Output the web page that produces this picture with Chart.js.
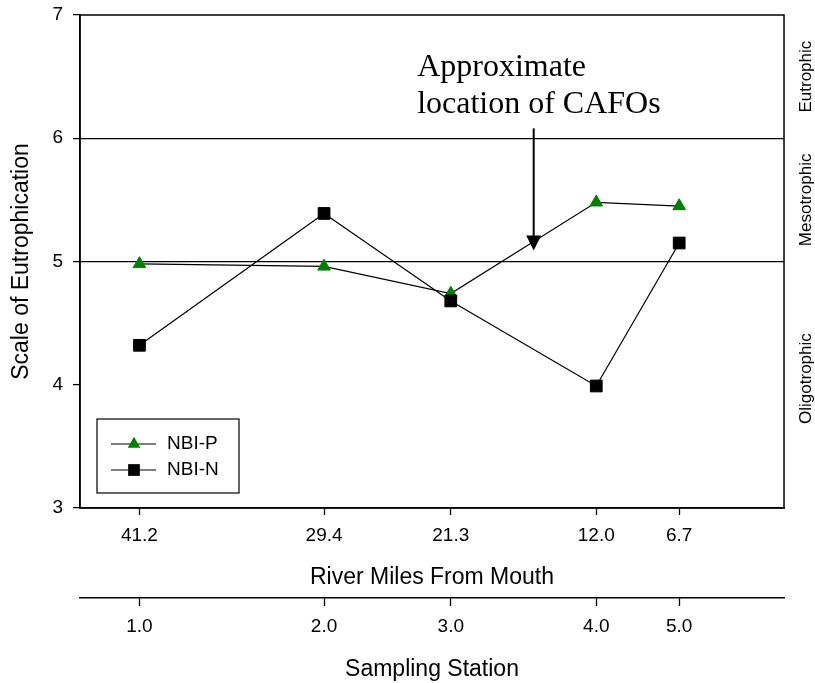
<!DOCTYPE html>
<html>
<head>
<meta charset="utf-8">
<title>Nutrient biotic index along the river</title>
<script src="https://cdn.jsdelivr.net/npm/chart.js@4.4.1/dist/chart.umd.min.js"></script>
<style>
  html, body { margin: 0; padding: 0; background: #fff; }
  #wrap { width: 815px; height: 683px; }
</style>
</head>
<body>
<div id="wrap"><canvas id="myChart" width="815" height="683"></canvas></div>
<script>
// station positions (river miles from the mouth) and station numbers
const riverMiles = [41.2, 29.4, 21.3, 12.0, 6.7];
const stationLabels = ['1.0', '2.0', '3.0', '4.0', '5.0'];

// nutrient biotic index at each station
const nbiP = [4.98, 4.96, 4.74, 5.48, 5.45];
const nbiN = [4.32, 5.39, 4.68, 3.99, 5.15];

// trophic zones on the right edge
const trophicNames = ['Eutrophic', 'Mesotrophic', 'Oligotrophic'];
const trophicCenters = [6.5, 5.5, 4.05];
const trophicBounds = [5, 6];

// CAFO note: river mile of the arrow, arrow top / tip, text anchor
const cafoMile = 16.0;
const cafoArrow = [6.08, 5.09];
const cafoText = ['Approximate', 'location of CAFOs'];
const cafoTextAt = [23.45, 6.505];

const sans = 'Arial, "Liberation Sans", sans-serif';
const serif = '"Times New Roman", "Liberation Serif", serif';
Chart.defaults.font.family = sans;
Chart.defaults.color = '#000';

const toPoints = vals => riverMiles.map((m, i) => ({ x: m, y: vals[i] }));

// box round the plot area
const framePlugin = {
  id: 'frame',
  beforeDatasetsDraw(chart) {
    const { ctx, chartArea: a } = chart;
    ctx.save();
    ctx.strokeStyle = '#000';
    ctx.lineWidth = 1.5;
    ctx.strokeRect(a.left, a.top, a.right - a.left, a.bottom - a.top);
    ctx.restore();
  }
};

// zone names written sideways past the right edge
const zonePlugin = {
  id: 'zones',
  afterDraw(chart) {
    const { ctx, chartArea: a, scales: { y } } = chart;
    ctx.save();
    ctx.font = '17px ' + sans;
    ctx.fillStyle = '#000';
    ctx.textAlign = 'center';
    ctx.textBaseline = 'middle';
    trophicNames.forEach((name, i) => {
      ctx.save();
      ctx.translate(a.right + 22, y.getPixelForValue(trophicCenters[i]));
      ctx.rotate(-Math.PI / 2);
      ctx.fillText(name, 0, 0);
      ctx.restore();
    });
    ctx.restore();
  }
};

// arrow and note for the CAFOs
const cafoPlugin = {
  id: 'cafo',
  afterDatasetsDraw(chart) {
    const { ctx, scales: { x, y } } = chart;
    const px = x.getPixelForValue(cafoMile);
    const top = y.getPixelForValue(cafoArrow[0]);
    const tip = y.getPixelForValue(cafoArrow[1]);
    ctx.save();
    ctx.strokeStyle = '#000';
    ctx.fillStyle = '#000';
    ctx.lineWidth = 2;
    ctx.beginPath();
    ctx.moveTo(px, top);
    ctx.lineTo(px, tip - 13);
    ctx.stroke();
    ctx.beginPath();
    ctx.moveTo(px - 7.5, tip - 15);
    ctx.lineTo(px + 7.5, tip - 15);
    ctx.lineTo(px, tip);
    ctx.closePath();
    ctx.fill();

    ctx.font = '32px ' + serif;
    ctx.textAlign = 'left';
    ctx.textBaseline = 'alphabetic';
    const tx = x.getPixelForValue(cafoTextAt[0]);
    const ty = y.getPixelForValue(cafoTextAt[1]);
    cafoText.forEach((line, i) => ctx.fillText(line, tx, ty + i * 37));
    ctx.restore();
  }
};

// boxed legend in the lower left corner of the plot
const legendPlugin = {
  id: 'boxLegend',
  afterDraw(chart) {
    const { ctx, chartArea: a } = chart;
    const left = a.left + 17, top = a.bottom - 89;
    ctx.save();
    ctx.strokeStyle = '#000';
    ctx.lineWidth = 1.2;
    ctx.strokeRect(left, top, 142, 74);
    ctx.font = '19px ' + sans;
    ctx.textBaseline = 'middle';
    ctx.textAlign = 'left';
    chart.data.datasets.forEach((ds, i) => {
      const ry = top + 25 + i * 26;
      ctx.strokeStyle = ds.borderColor;
      ctx.lineWidth = 1.2;
      ctx.beginPath();
      ctx.moveTo(left + 14, ry);
      ctx.lineTo(left + 59, ry);
      ctx.stroke();
      const mx = left + 37;
      ctx.fillStyle = ds.pointBackgroundColor;
      ctx.beginPath();
      if (ds.pointStyle === 'triangle') {
        const r = ds.pointRadius;
        ctx.moveTo(mx, ry - r);
        ctx.lineTo(mx + r * 0.866, ry + r / 2);
        ctx.lineTo(mx - r * 0.866, ry + r / 2);
        ctx.closePath();
      } else {
        const h = ds.pointRadius * Math.SQRT1_2;
        ctx.rect(mx - h, ry - h, 2 * h, 2 * h);
      }
      ctx.fill();
      ctx.fillStyle = '#000';
      ctx.fillText(ds.label, left + 70, ry);
    });
    ctx.restore();
  }
};

const ctx = document.getElementById('myChart').getContext('2d');
new Chart(ctx, {
  type: 'line',
  data: {
    datasets: [
      {
        label: 'NBI-P',
        data: toPoints(nbiP),
        borderColor: '#000',
        borderWidth: 1.2,
        pointStyle: 'triangle',
        pointRadius: 7.3,
        pointBackgroundColor: '#008000',
        pointBorderColor: '#008000',
        pointBorderWidth: 1,
        order: 1
      },
      {
        label: 'NBI-N',
        data: toPoints(nbiN),
        borderColor: '#000',
        borderWidth: 1.2,
        pointStyle: 'rect',
        pointRadius: 8.3,
        pointBackgroundColor: '#000',
        pointBorderColor: '#000',
        pointBorderWidth: 1,
        order: 0
      }
    ]
  },
  options: {
    responsive: false,
    animation: false,
    layout: { padding: { left: 0, top: 15, right: 31, bottom: 0 } },
    plugins: { legend: { display: false }, tooltip: { enabled: false } },
    scales: {
      x: {
        type: 'linear',
        position: 'bottom',
        min: 0,
        max: 45,
        reverse: true,
        afterBuildTicks: s => { s.ticks = riverMiles.map(v => ({ value: v })); },
        afterFit: s => { s.height = 90; },
        ticks: { callback: v => v.toFixed(1), font: { size: 19 }, padding: 9, autoSkip: false, maxRotation: 0 },
        grid: { drawOnChartArea: false, tickLength: 7, tickColor: '#000', tickWidth: 1.3 },
        border: { color: '#000', width: 1.5 },
        title: { display: true, text: 'River Miles From Mouth', font: { size: 23 }, padding: { top: 0, bottom: 7 } }
      },
      x2: {
        type: 'linear',
        position: 'bottom',
        min: 0,
        max: 45,
        reverse: true,
        afterBuildTicks: s => { s.ticks = riverMiles.map(v => ({ value: v })); },
        afterFit: s => { s.height = 85; },
        ticks: { callback: v => stationLabels[riverMiles.indexOf(v)], font: { size: 19 }, padding: 9, autoSkip: false, maxRotation: 0 },
        grid: { drawOnChartArea: false, tickLength: 8, tickColor: '#000', tickWidth: 1.3 },
        border: { color: '#000', width: 1.5 },
        title: { display: true, text: 'Sampling Station', font: { size: 23 }, padding: { top: 0, bottom: 0 } }
      },
      y: {
        min: 3,
        max: 7,
        afterFit: s => { s.width = 80; s.paddingTop = 0; s.paddingBottom = 0; },
        ticks: { stepSize: 1, font: { size: 19 }, padding: 10 },
        grid: {
          color: c => trophicBounds.includes(c.tick && c.tick.value) ? '#000' : 'rgba(0,0,0,0)',
          lineWidth: 1.2,
          tickColor: '#000',
          tickLength: 7,
          tickWidth: 1.3
        },
        border: { color: '#000', width: 1.5 },
        title: { display: true, text: 'Scale of Eutrophication', font: { size: 23 }, padding: { top: 8, bottom: 0 } }
      }
    }
  },
  plugins: [framePlugin, cafoPlugin, zonePlugin, legendPlugin]
});
</script>
</body>
</html>
